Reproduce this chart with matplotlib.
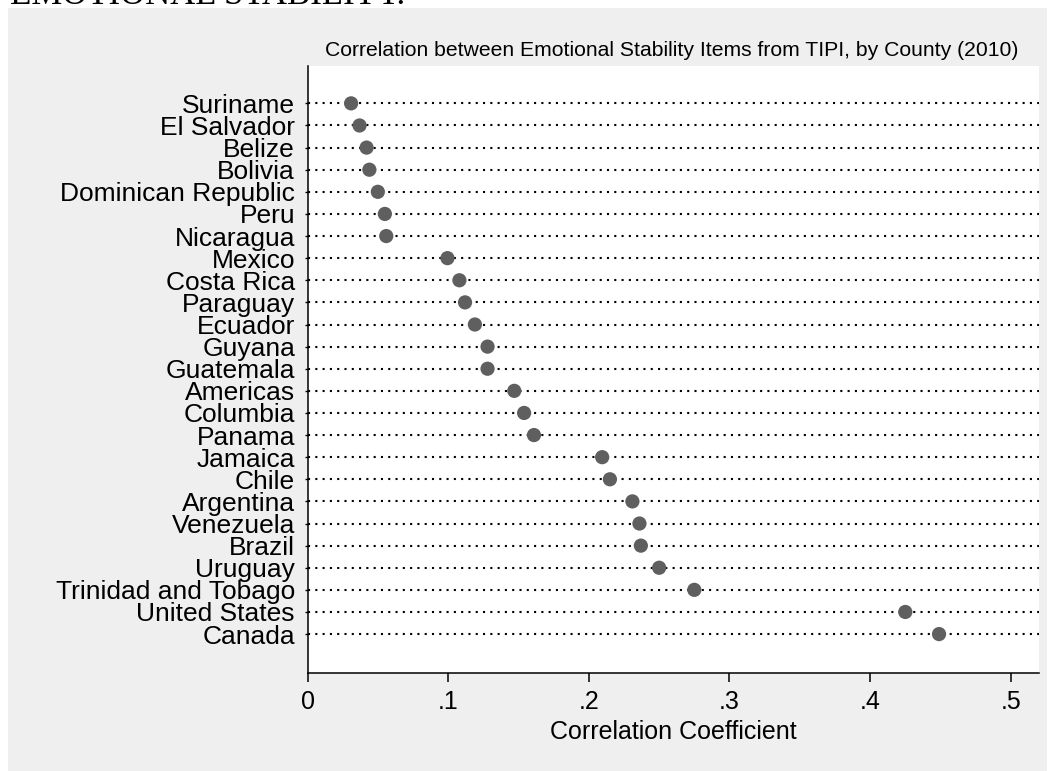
import numpy as np
import matplotlib
matplotlib.use("Agg")
import matplotlib.pyplot as plt
from matplotlib.patches import Rectangle

plt.rcParams["font.family"] = ["Liberation Sans", "DejaVu Sans"]

# correlation per country, top to bottom as plotted
countries = ["Suriname", "El Salvador", "Belize", "Bolivia", "Dominican Republic",
             "Peru", "Nicaragua", "Mexico", "Costa Rica", "Paraguay", "Ecuador",
             "Guyana", "Guatemala", "Americas", "Columbia", "Panama", "Jamaica",
             "Chile", "Argentina", "Venezuela", "Brazil", "Uruguay",
             "Trinidad and Tobago", "United States", "Canada"]
corr = [0.031, 0.037, 0.042, 0.044, 0.050, 0.055, 0.056, 0.0995, 0.108, 0.112,
        0.119, 0.128, 0.128, 0.147, 0.154, 0.161, 0.2095, 0.215, 0.231, 0.236,
        0.237, 0.250, 0.275, 0.425, 0.449]
xticks = [0, 0.1, 0.2, 0.3, 0.4, 0.5]
xticklabels = ["0", ".1", ".2", ".3", ".4", ".5"]

W, H = 1054, 771
fig = plt.figure(figsize=(W / 100, H / 100), dpi=100)
fig.patch.set_facecolor("white")

# grey graph region (behind the axes)
fig.patches.append(Rectangle((8 / W, 0), (1047 - 8) / W, (H - 8) / H,
                             transform=fig.transFigure, facecolor="#efefef",
                             edgecolor="none", zorder=-10))

# caption cut off at the very top
fig.text(10 / W, 1 - 4 / H, "EMOTIONAL STABILITY.", family="Liberation Serif",
         fontsize=25, ha="left", va="baseline")

ax = fig.add_axes([307.5 / W, (H - 673) / H, (1038.5 - 307.5) / W, (673 - 66) / H])
ax.set_facecolor("white")

y = np.arange(len(countries))
xmax = 0.5197
ax.hlines(y, 0, xmax, colors="black", linewidth=1.5, linestyles=(0, (1, 2.5)),
          zorder=1)
ax.scatter(corr, y, s=105, color="#5f5f5f", edgecolors="none", zorder=3)

ax.set_xlim(0, xmax)
ax.set_ylim(len(countries) - 1 + 1.76, -1.69)

ax.set_yticks(y)
ax.set_yticklabels(countries, fontsize=19)
ax.set_xticks(xticks)
ax.set_xticklabels(xticklabels, fontsize=18)
ax.tick_params(axis="y", length=2, width=1, pad=7)
ax.tick_params(axis="x", length=6.5, width=1.1, pad=6)

for side in ["top", "right"]:
    ax.spines[side].set_visible(False)
for side in ["left", "bottom"]:
    ax.spines[side].set_linewidth(1.1)

ax.set_xlabel("Correlation Coefficient", fontsize=18, labelpad=4)

fig.text(672 / W, 1 - 50 / H,
         "Correlation between Emotional Stability Items from TIPI, by County (2010)",
         fontsize=15.2, ha="center", va="center")

plt.savefig("out.png", dpi=100)
